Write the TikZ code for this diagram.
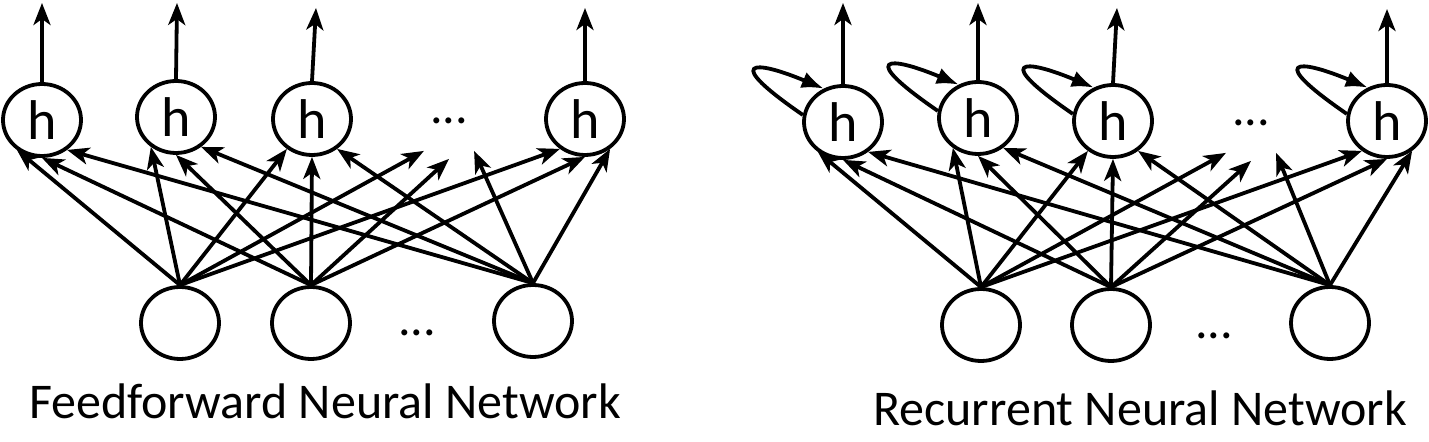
\documentclass[tikz,border=0pt]{standalone}
\usepackage{fontspec}
\setmainfont{Carlito}
\usetikzlibrary{shapes.geometric,arrows.meta}

\begin{document}
\begin{tikzpicture}[x=0.5pt, y=-0.5pt, line width=1.9pt,
  unit/.style={draw, ellipse, minimum width=39pt, minimum height=36pt, inner sep=0pt, font=\fontsize{28}{30}\selectfont},
  gap/.style={unit, draw=none, font=\fontsize{25}{30}\selectfont},
  conn/.style={-{Stealth[length=11pt, width=8.5pt, inset=3pt]}},
  selfloop/.style={-{Latex[length=11pt, width=8.5pt]}},
  caption/.style={anchor=base, font=\fontsize{25}{30}\selectfont}]
\useasboundingbox (0,0) rectangle (1429,442);

% feedforward
\foreach \n/\x/\y in {1/42/120, 2/176/117, 3/312/119, 5/585/119}
  \node[unit] (fh\n) at (\x,\y) {h};
\node[gap] (fh4) at (449,121) {...};

\foreach \n/\x/\y in {1/180/323, 2/311/323, 3/533/321}
  \node[unit] (fi\n) at (\x,\y) {};
\node[gap] (fdots) at (417,333) {...};

\foreach \a/\s in {1/230, 2/270, 3/310}
  \foreach \b in {1,...,5}
    \draw[conn] (fi\a.north) -- (fh\b.\s);

\foreach \n/\x/\y in {1/42/3, 2/177/3, 3/316/8, 5/585/8}
{
\coordinate (fo\n) at (\x,\y);
\draw[conn] (fh\n.north) -- (fo\n);
}

\node[caption] (fcap) at (325,419) {Feedforward Neural Network};

% recurrent
\foreach \n/\x/\y in {1/843/122, 2/978/118, 3/1113/121, 5/1387/121}
  \node[unit] (rh\n) at (\x,\y) {h};
\node[gap] (rh4) at (1251,123) {...};

\foreach \n/\x/\y in {1/981/325, 2/1111/325, 3/1330/323}
  \node[unit] (ri\n) at (\x,\y) {};
\node[gap] (rdots) at (1214,336) {...};

\foreach \a/\s in {1/230, 2/270, 3/310}
  \foreach \b in {1,...,5}
    \draw[conn] (ri\a.north) -- (rh\b.\s);

\foreach \n/\x/\y in {1/843/3, 2/978/3, 3/1117/8, 5/1387/9}
{
\coordinate (ro\n) at (\x,\y);
\draw[conn] (rh\n.north) -- (ro\n);
}

\foreach \n in {1,2,3,5}
  \draw[selfloop] (rh\n.170) .. controls +(-80,-55) and +(-72,-30) .. (rh\n.120);

\node[caption] (rcap) at (1140,426) {Recurrent Neural Network};
\end{tikzpicture}
\end{document}
